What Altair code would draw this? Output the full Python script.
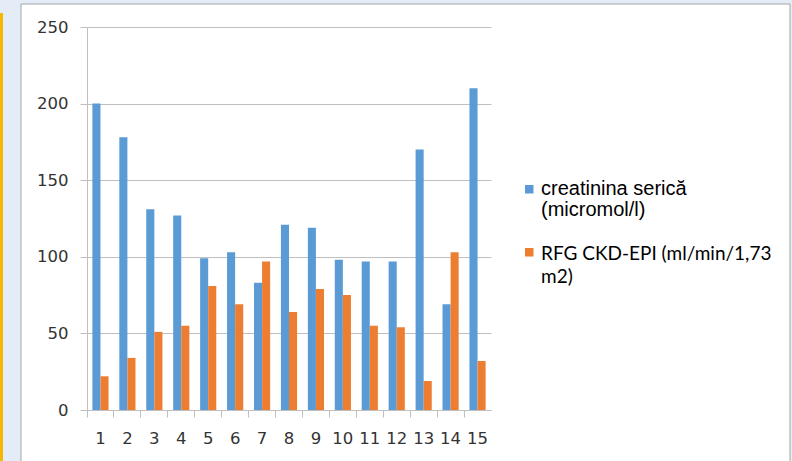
import altair as alt
import pandas as pd

categories = [str(i) for i in range(1, 16)]
series_names = ["creatinina serică (micromol/l)", "RFG CKD-EPI (ml/min/1,73 m2)"]
legend_texts = ["creatinina serică\n(micromol/l)", "RFG CKD-EPI (ml/min/1,73\nm2)"]
creatinina = [200, 178, 131, 127, 99, 103, 83, 121, 119, 98, 97, 97, 170, 69, 210]
rfg = [22, 34, 51, 55, 81, 69, 97, 64, 79, 75, 55, 54, 19, 103, 32]
y_ticks = [0, 50, 100, 150, 200, 250]
colors = ["#5B9BD5", "#ED7D31"]

rows = []
for c, a, b in zip(categories, creatinina, rfg):
    rows.append({"cat": c, "serie": series_names[0], "val": a})
    rows.append({"cat": c, "serie": series_names[1], "val": b})
df = pd.DataFrame(rows)

FONT = "DejaVu Sans"
W, H = 404, 383

bars = alt.Chart(df).mark_bar().encode(
    x=alt.X("cat:N", sort=categories,
            scale=alt.Scale(paddingInner=0, paddingOuter=0),
            axis=alt.Axis(title=None, labelAngle=0, bandPosition=0, ticks=True,
                          tickSize=7, tickColor="#bfbfbf", domainColor="#bfbfbf",
                          labelFont=FONT, labelFontSize=16.5, labelColor="#333333",
                          labelPadding=13, grid=False)),
    xOffset=alt.XOffset("serie:N", sort=series_names,
                        scale=alt.Scale(paddingInner=0, paddingOuter=0.667)),
    y=alt.Y("val:Q", scale=alt.Scale(domain=[0, 250], nice=False),
            axis=alt.Axis(title=None, values=y_ticks, tickSize=7, tickColor="#bfbfbf",
                          domainColor="#bfbfbf", gridColor="#bfbfbf",
                          labelFont=FONT, labelFontSize=16.5, labelColor="#333333",
                          labelPadding=12)),
    color=alt.Color("serie:N", sort=series_names,
                    scale=alt.Scale(domain=series_names, range=colors),
                    legend=None),
)

dummy = alt.Data(values=[{"k": 1}])

# legend (drawn by hand so each entry can wrap like the original)
leg_sq1 = alt.Chart(dummy).mark_rect(color=colors[0]).encode(
    x=alt.value(438), x2=alt.value(446.5), y=alt.value(158), y2=alt.value(166.5))
leg_sq2 = alt.Chart(dummy).mark_rect(color=colors[1]).encode(
    x=alt.value(438), x2=alt.value(446.5), y=alt.value(221), y2=alt.value(229.5))
leg_t1 = alt.Chart(alt.Data(values=[{"t": legend_texts[0]}])).mark_text(
    align="left", baseline="alphabetic", lineBreak="\n", lineHeight=21,
    font="Liberation Sans", fontSize=20, color="#000000").encode(
    x=alt.value(454), y=alt.value(168), text="t:N")
leg_t2 = alt.Chart(alt.Data(values=[{"t": legend_texts[1]}])).mark_text(
    align="left", baseline="alphabetic", lineBreak="\n", lineHeight=23,
    font="Lato", fontSize=19, color="#000000").encode(
    x=alt.value(454), y=alt.value(233), text="t:N")

bg = "#E4ECF7"
left_band = alt.Chart(dummy).mark_rect(color=bg).encode(
    x=alt.value(-87), x2=alt.value(-66), y=alt.value(-27), y2=alt.value(H + 60))
top_band = alt.Chart(dummy).mark_rect(color=bg).encode(
    x=alt.value(-87), x2=alt.value(792 - 87), y=alt.value(-27), y2=alt.value(-23))
right_band = alt.Chart(dummy).mark_rect(color=bg).encode(
    x=alt.value(790 - 87), x2=alt.value(792 - 87), y=alt.value(-27), y2=alt.value(H + 60))
yellow = alt.Chart(dummy).mark_rect(color="#F5B800").encode(
    x=alt.value(-87), x2=alt.value(-84), y=alt.value(-14), y2=alt.value(H + 60))
border = alt.Chart(dummy).mark_rect(fill=None, stroke="#A6A6A6", strokeWidth=1).encode(
    x=alt.value(-66), x2=alt.value(790 - 87), y=alt.value(-23), y2=alt.value(H + 60))

chart = alt.layer(left_band, top_band, right_band, yellow, border, bars,
                  leg_sq1, leg_sq2, leg_t1, leg_t2).properties(
    width=W, height=H,
    padding={"left": 87, "top": 27, "right": 792 - 87 - W, "bottom": 461 - 27 - H},
    autosize=alt.AutoSizeParams(type="none"),
    background="#FFFFFF",
).configure_view(stroke=None)

chart.save("out.html", embed_options={"renderer": "svg", "actions": False})
